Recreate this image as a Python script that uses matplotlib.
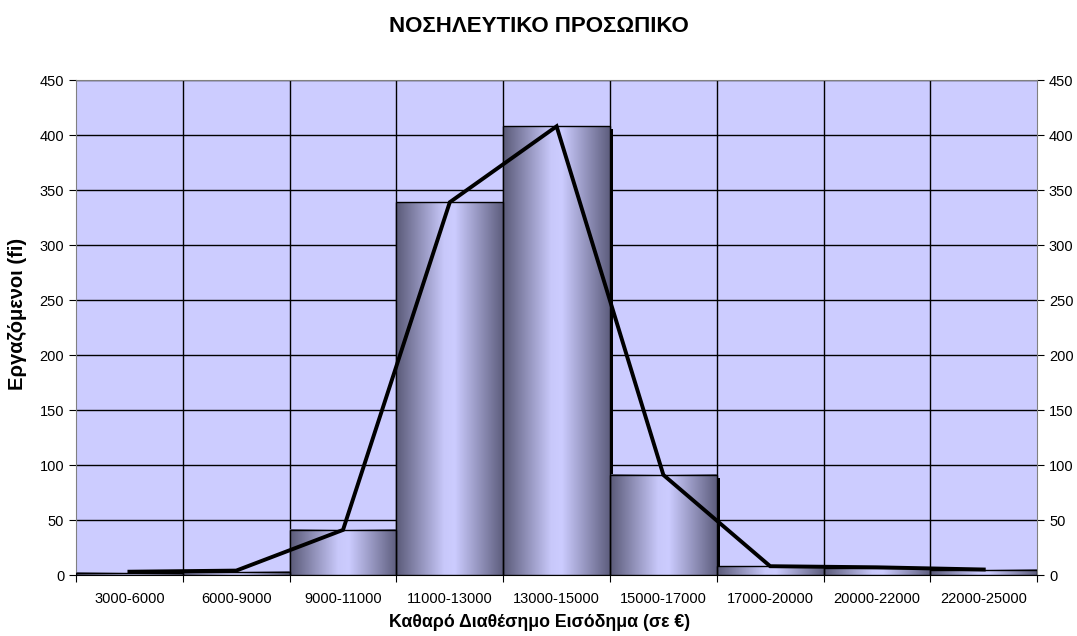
import matplotlib
matplotlib.use("Agg")
import matplotlib.pyplot as plt
import numpy as np
from matplotlib.colors import LinearSegmentedColormap

plt.rcParams['font.family'] = ['Liberation Sans', 'DejaVu Sans']

title = "ΝΟΣΗΛΕΥΤΙΚΟ ΠΡΟΣΩΠΙΚΟ"
xlabel = "Καθαρό Διαθέσημο Εισόδημα (σε €)"
ylabel = "Εργαζόμενοι (fi)"
categories = ["3000-6000", "6000-9000", "9000-11000", "11000-13000", "13000-15000",
              "15000-17000", "17000-20000", "20000-22000", "22000-25000"]
bar_values = [2, 3, 41, 339, 408, 91, 8, 6, 5]
line_values = [3, 4, 41, 339, 408, 91, 8, 7, 5]
yticks = [0, 50, 100, 150, 200, 250, 300, 350, 400, 450]

fig = plt.figure(figsize=(10.77, 6.36), dpi=100)
ax = fig.add_axes([0.0706, 0.0959, 0.8924, 0.7781])
ax.set_facecolor('#ccccff')

n = len(categories)
ax.set_xlim(0, n)
ax.set_ylim(0, 450)

cmap = LinearSegmentedColormap.from_list(
    'bar', [(0.0, '#5a5a78'), (0.45, '#c8c8fa'), (0.55, '#ccccff'), (1.0, '#5e5e7e')])
grad = np.linspace(0, 1, 256).reshape(1, -1)

# gridlines
for yv in yticks:
    ax.axhline(yv, color='black', lw=1.0, zorder=1)
for i in range(1, n):
    ax.axvline(i, color='black', lw=1.0, zorder=1)

# bars: shadow + gradient fill
dx = 0.03
for i, v in enumerate(bar_values):
    ax.add_patch(plt.Rectangle((i + dx, 0), 1, v - 2.5, color='black', zorder=2, lw=0))
for i, v in enumerate(bar_values):
    ax.imshow(grad, cmap=cmap, extent=(i, i + 1, 0, v), aspect='auto', zorder=3,
              interpolation='bilinear')
    ax.add_patch(plt.Rectangle((i, 0), 1, v, fill=False, edgecolor='black', lw=1.0, zorder=4))

ax.set_xlim(0, n)
ax.set_ylim(0, 450)

centers = np.arange(n) + 0.5
ax.plot(centers, line_values, color='black', lw=2.8, zorder=5, solid_joinstyle='miter')

ax.set_xticks(np.arange(n + 1))
ax.set_xticklabels([])
ax.set_xticks(centers, minor=True)
ax.set_xticklabels(categories, minor=True, fontsize=10.5)
ax.tick_params(axis='x', which='minor', length=0, pad=12)
ax.tick_params(axis='x', which='major', length=5, color='black', direction='out')
ax.set_yticks(yticks)
ax.tick_params(axis='y', which='major', length=5, labelsize=10.5, right=True,
               labelright=True, direction='out')

for s in ['top', 'right', 'left', 'bottom']:
    ax.spines[s].set_color('#808080')
ax.spines['bottom'].set_color('black')

ax.set_xlabel(xlabel, fontsize=12.8, fontweight='bold')
ax.xaxis.set_label_coords(0.482, -0.078)
ax.set_ylabel(ylabel, fontsize=14.5, fontweight='bold')
ax.yaxis.set_label_coords(-0.051, 0.527)
fig.text(0.5, 0.958, title, ha='center', va='center', fontsize=16, fontweight='bold')

fig.savefig('out.png', dpi=100)
